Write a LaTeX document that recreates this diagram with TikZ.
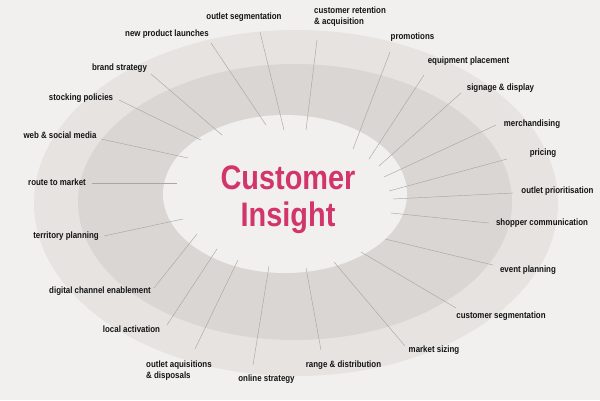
\documentclass[tikz,border=0pt]{standalone}
\usepackage{fontspec}
\setmainfont{Liberation Sans}
\newfontfamily\labelfont[FakeStretch=0.86]{Liberation Sans}
\newfontfamily\titlefont[FakeStretch=0.85]{Liberation Sans}
\definecolor{bgc}{HTML}{F1F0EE}
\definecolor{outerc}{HTML}{E6E3E1}
\definecolor{midc}{HTML}{DAD6D4}
\definecolor{titlec}{HTML}{D2356C}
\definecolor{linec}{HTML}{A9A6A4}
\tikzset{
  lbl/.style={inner sep=0pt, font=\labelfont\bfseries\fontsize{9.2}{11}\selectfont, text=black!92, text height=6.8pt, text depth=1.8pt},
  lbl2/.style={lbl, align=left, anchor=west, text height=, text depth=},
  conn/.style={draw=linec, line width=0.45pt},
  title/.style={inner sep=0pt, font=\titlefont\bfseries\fontsize{34}{37}\selectfont, text=titlec, align=center}
}
\begin{document}
\begin{tikzpicture}[x=1pt,y=-1pt]
\useasboundingbox (0,0) rectangle (600,400);
\fill[bgc] (0,0) rectangle (600,400);
\fill[outerc] (296,203) ellipse [x radius=262pt, y radius=173pt];
\fill[midc] (295,202) ellipse [x radius=217pt, y radius=138pt];
\fill[bgc] (285,194) ellipse [x radius=122pt, y radius=79pt];

\node[title] (ci) at (288,200) {Customer\\Insight};

% labels
\node[lbl] (l1) at (244,17) {outlet segmentation};
\node[lbl] (l2) at (167,34) {new product launches};
\node[lbl] (l3) at (119.5,68) {brand strategy};
\node[lbl] (l4) at (81,98) {stocking policies};
\node[lbl] (l5) at (60,136) {web \& social media};
\node[lbl] (l6) at (57,183) {route to market};
\node[lbl2] (l7) at (314,16.5) {customer retention\\\& acquisition};
\node[lbl] (l8) at (412.5,37) {promotions};
\node[lbl] (l9) at (468.5,61) {equipment placement};
\node[lbl] (l10) at (500.5,88) {signage \& display};
\node[lbl] (l11) at (532,124) {merchandising};
\node[lbl] (l12) at (543,153) {pricing};
\node[lbl] (l13) at (557.5,191) {outlet prioritisation};
\node[lbl] (l14) at (542,223) {shopper communication};
\node[lbl] (l15) at (528,270) {event planning};
\node[lbl] (l16) at (501,316) {customer segmentation};
\node[lbl] (l17) at (434,350) {market sizing};
\node[lbl] (l18) at (343.5,365) {range \& distribution};
\node[lbl] (l19) at (266.5,379) {online strategy};
\node[lbl2] (l20) at (146,370.5) {outlet aquisitions\\\& disposals};
\node[lbl] (l21) at (131.5,330) {local activation};
\node[lbl] (l22) at (100,291) {digital channel enablement};
\node[lbl] (l23) at (66,236) {territory planning};

% connector ends
\coordinate (a1) at (260,32);  \coordinate (b1) at (284,130);
\coordinate (a2) at (211,43);  \coordinate (b2) at (266,125);
\coordinate (a3) at (151,74);  \coordinate (b3) at (222,135);
\coordinate (a4) at (119,100); \coordinate (b4) at (201,140);
\coordinate (a5) at (101,139); \coordinate (b5) at (188,158);
\coordinate (a6) at (92,183);  \coordinate (b6) at (177,183);
\coordinate (a7) at (317,40);  \coordinate (b7) at (306,130);
\coordinate (a8) at (390,52);  \coordinate (b8) at (353,149);
\coordinate (a9) at (424,75);  \coordinate (b9) at (369,159);
\coordinate (a10) at (461,93); \coordinate (b10) at (379,166);
\coordinate (a11) at (496,125); \coordinate (b11) at (384,177);
\coordinate (a12) at (507,159); \coordinate (b12) at (389,191);
\coordinate (a13) at (513,193); \coordinate (b13) at (393,199);
\coordinate (a14) at (489,223); \coordinate (b14) at (391,213);
\coordinate (a15) at (493,265); \coordinate (b15) at (385,239);
\coordinate (a16) at (456,308); \coordinate (b16) at (361,252);
\coordinate (a17) at (405,346); \coordinate (b17) at (334,262);
\coordinate (a18) at (321,350); \coordinate (b18) at (306,268);
\coordinate (a19) at (253,365); \coordinate (b19) at (269,266);
\coordinate (a20) at (195,349); \coordinate (b20) at (238,260);
\coordinate (a21) at (167,325); \coordinate (b21) at (217,249);
\coordinate (a22) at (154,288); \coordinate (b22) at (197,234);
\coordinate (a23) at (104,236); \coordinate (b23) at (183,219);

\foreach \i in {1,...,23} { \draw[conn] (a\i) -- (b\i); }
\end{tikzpicture}
\end{document}
